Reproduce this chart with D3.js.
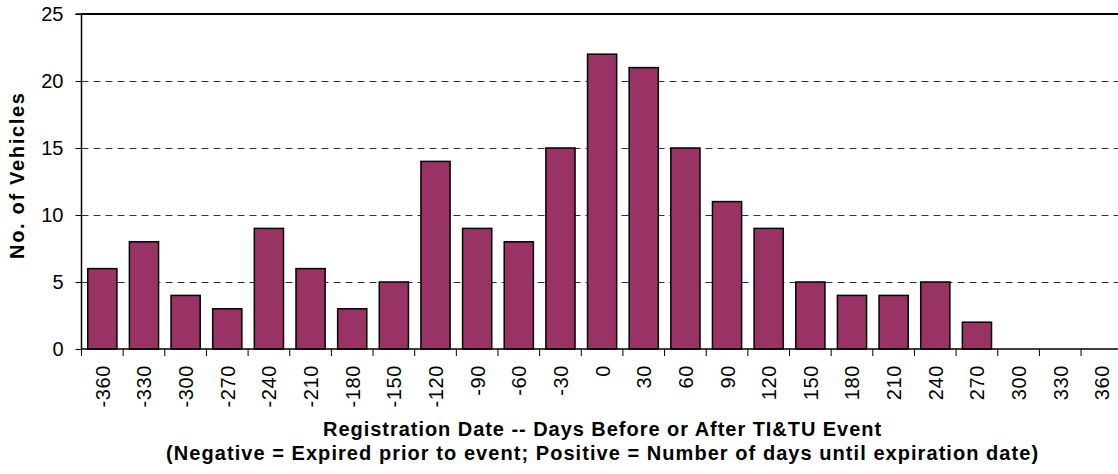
<!DOCTYPE html>
<html lang="en">
<head>
  <meta charset="UTF-8">
  <title>Registration Date chart</title>
  <script src="https://cdn.jsdelivr.net/npm/d3@7/dist/d3.min.js"></script>
  <style>
    body { margin: 0; background: #fff; }
    svg text { font-family: Arial, "Liberation Sans", sans-serif; fill: #000; }
  </style>
</head>
<body>
  <svg id="chart" width="1118" height="474"></svg>
  <script>
    // days before / after event
    const days = [-360, -330, -300, -270, -240, -210, -180, -150, -120, -90, -60, -30,
                  0, 30, 60, 90, 120, 150, 180, 210, 240, 270, 300, 330, 360];
    const vehicles = [6, 8, 4, 3, 9, 6, 3, 5, 14, 9, 8, 15,
                      22, 21, 15, 11, 9, 5, 4, 4, 5, 2, 0, 0, 0];
    const yTicks = [0, 5, 10, 15, 20, 25];

    const svg = d3.select('#chart');
    // the plot runs slightly past the right edge of the picture (cropped)
    const margin = {top: 14, left: 81.5, right: -4.7, bottom: 125};
    const width = +svg.attr('width'), height = +svg.attr('height');
    const innerH = height - margin.top - margin.bottom;

    const x = d3.scaleBand()
      .domain(days)
      .range([margin.left, width - margin.right])
      .paddingInner(0.3)
      .paddingOuter(0.15);

    const y = d3.scaleLinear()
      .domain([0, 25])
      .range([margin.top + innerH, margin.top]);

    // dashed gridlines
    svg.append('g')
      .selectAll('line')
      .data(yTicks.filter(t => t > 0 && t < 25))
      .enter().append('line')
        .attr('x1', margin.left)
        .attr('x2', width)
        .attr('y1', d => y(d) + 0.5)
        .attr('y2', d => y(d) + 0.5)
        .attr('stroke', '#333')
        .attr('stroke-dasharray', '7,5');

    // top border
    svg.append('line')
      .attr('x1', margin.left).attr('x2', width)
      .attr('y1', y(25)).attr('y2', y(25))
      .attr('stroke', '#000').attr('stroke-width', 2);

    // bars
    svg.append('g')
      .selectAll('rect')
      .data(days)
      .enter().append('rect')
        .attr('x', d => x(d))
        .attr('y', (d, i) => y(vehicles[i]))
        .attr('width', x.bandwidth())
        .attr('height', (d, i) => y(0) - y(vehicles[i]))
        .attr('fill', '#993366')
        .attr('stroke', '#000')
        .attr('stroke-width', (d, i) => vehicles[i] > 0 ? 1.5 : 0);

    // y axis
    const yAxis = svg.append('g')
      .attr('transform', `translate(${margin.left},0)`)
      .call(d3.axisLeft(y).tickValues(yTicks).tickSize(6).tickPadding(12));
    yAxis.select('.domain').attr('stroke-width', 1.5).attr('d', `M-6,${y(25)}H0V${y(0)}`);
    yAxis.selectAll('text').style('font-size', '20px');

    // x axis, ticks sit on band boundaries
    const step = x.step();
    const start = x(days[0]) - x.paddingOuter() * step;
    const xAxisG = svg.append('g');
    xAxisG.append('line')
      .attr('x1', margin.left).attr('x2', width)
      .attr('y1', y(0)).attr('y2', y(0))
      .attr('stroke', '#000').attr('stroke-width', 1.5);
    xAxisG.selectAll('line.tick')
      .data(d3.range(days.length + 1))
      .enter().append('line')
        .attr('class', 'tick')
        .attr('x1', i => start + i * step)
        .attr('x2', i => start + i * step)
        .attr('y1', y(0)).attr('y2', y(0) + 7)
        .attr('stroke', '#000');
    xAxisG.selectAll('text')
      .data(days)
      .enter().append('text')
        .attr('transform', d => `translate(${x(d) + x.bandwidth() / 2 + 7.5},${y(0) + 16}) rotate(-90)`)
        .attr('text-anchor', 'end')
        .style('font-size', '20px')
        .style('letter-spacing', '0.6px')
        .text(d => d);

    // axis titles
    const midX = (margin.left + width - margin.right) / 2;
    svg.append('text')
      .attr('transform', `translate(24,176) rotate(-90)`)
      .attr('text-anchor', 'middle')
      .attr('textLength', 166)
      .attr('lengthAdjust', 'spacing')
      .style('font-size', '20px').style('font-weight', 'bold')
      .text('No. of Vehicles');

    svg.append('text')
      .attr('x', midX).attr('y', 436)
      .attr('text-anchor', 'middle')
      .attr('textLength', 558)
      .attr('lengthAdjust', 'spacing')
      .style('font-size', '20px').style('font-weight', 'bold')
      .text('Registration Date -- Days Before or After TI&TU Event');

    svg.append('text')
      .attr('x', midX).attr('y', 460)
      .attr('text-anchor', 'middle')
      .attr('textLength', 872)
      .attr('lengthAdjust', 'spacing')
      .style('font-size', '20px').style('font-weight', 'bold')
      .text('(Negative = Expired prior to event; Positive = Number of days until expiration date)');
  </script>
</body>
</html>
